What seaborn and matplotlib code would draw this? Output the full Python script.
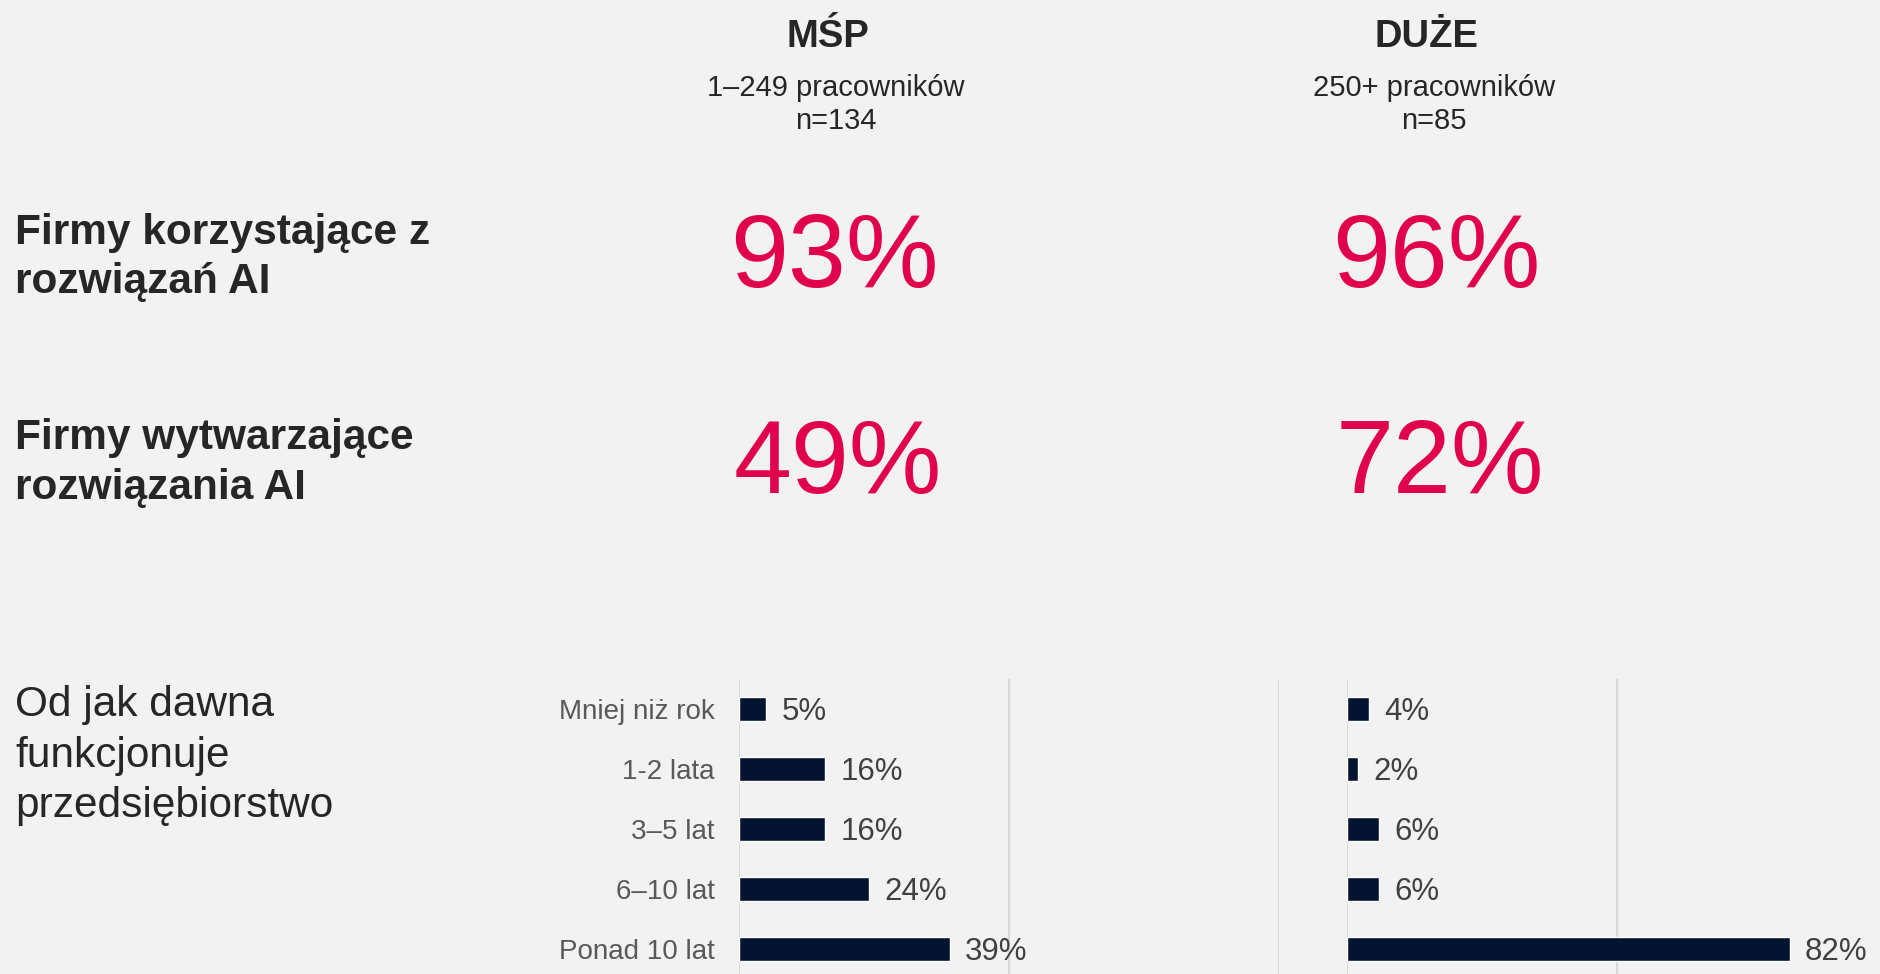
import matplotlib
matplotlib.use("Agg")
import matplotlib.pyplot as plt
import seaborn as sns

# survey data
groups = ["MŚP", "DUŻE"]
group_sizes = ["1–249 pracowników", "250+ pracowników"]
group_n = ["n=134", "n=85"]
using_ai = [93, 96]
building_ai = [49, 72]
age_categories = ["Mniej niż rok", "1-2 lata", "3–5 lat", "6–10 lat", "Ponad 10 lat"]
age_msp = [5, 16, 16, 24, 39]
age_duze = [4, 2, 6, 6, 82]

BG = "#F2F2F2"
PINK = "#E0004D"
NAVY = "#041430"
DARK = "#262626"

sns.set_theme(style="white", rc={"figure.facecolor": BG, "axes.facecolor": BG})
plt.rcParams["font.family"] = ["Liberation Sans", "DejaVu Sans"]

W, H = 1880, 974
fig = plt.figure(figsize=(W / 100, H / 100), dpi=100)


def put(x, y, s, **kw):
    # x, y in pixels from top-left of the figure, y is the baseline
    fig.text(x / W, 1 - y / H, s, va="baseline", **kw)


# column headers
col_x = [832, 1430]
for i in range(2):
    put(col_x[i] - 4, 47, groups[i], ha="center", fontsize=27.5, fontweight="bold", color=DARK)
    put(col_x[i] + 4, 96, group_sizes[i], ha="center", fontsize=21, color=DARK)
    put(col_x[i] + 4, 129, group_n[i], ha="center", fontsize=21, color=DARK)

# row labels
put(15, 244, "Firmy korzystające z", ha="left", fontsize=30.5, fontweight="bold", color=DARK)
put(15, 293, "rozwiązań AI", ha="left", fontsize=30.5, fontweight="bold", color=DARK)
put(15, 449, "Firmy wytwarzające", ha="left", fontsize=30.5, fontweight="bold", color=DARK)
put(15, 499, "rozwiązania AI", ha="left", fontsize=30.5, fontweight="bold", color=DARK)
put(15, 716, "Od jak dawna", ha="left", fontsize=30.5, color=DARK)
put(15, 767, "funkcjonuje", ha="left", fontsize=30.5, color=DARK)
put(15, 817, "przedsiębiorstwo", ha="left", fontsize=30.5, color=DARK)

# big numbers
big_x = [[834, 838], [1436, 1440]]
for i in range(2):
    put(big_x[i][0], 287, f"{using_ai[i]}%", ha="center", fontsize=75, color=PINK)
    put(big_x[i][1], 493, f"{building_ai[i]}%", ha="center", fontsize=75, color=PINK)

# bar panels
px_per_pct = 5.4
top, bottom = 679, 974
ax_h = (bottom - top) / H
ylim_bottom = -0.5 + (bottom - top) / 60

panels = [(739, 540, age_msp, True, [0, 50, 100]),
          (1347, W - 1347, age_duze, False, [0, 50])]
for left, width, values, show_labels, grid_at in panels:
    ax = fig.add_axes([left / W, 0, width / W, ax_h])
    ax.set_facecolor(BG)
    sns.barplot(x=values, y=age_categories, ax=ax, color=NAVY, saturation=1,
                width=0.4, orient="h")
    ax.set_xticks(grid_at)
    ax.set_xlim(0, width / px_per_pct)
    ax.set_ylim(ylim_bottom, -0.5)
    ax.set_axisbelow(True)
    ax.grid(axis="x", color="#D9D9D9", linewidth=1.5)
    ax.grid(axis="y", visible=False)
    ax.tick_params(axis="x", length=0, labelbottom=False)
    ax.tick_params(axis="y", length=0, pad=17.5, labelsize=20, labelcolor="#595959")
    if not show_labels:
        ax.tick_params(axis="y", labelleft=False)
    ax.set_xlabel("")
    ax.set_ylabel("")
    for sp in ax.spines.values():
        sp.set_visible(False)
    texts = ax.bar_label(ax.containers[0], labels=[f"{v}%" for v in values],
                         padding=11, fontsize=22.5, color="#404040")
    for t in texts:
        t.set_va("center_baseline")

fig.savefig("out.png", dpi=100, facecolor=BG)
